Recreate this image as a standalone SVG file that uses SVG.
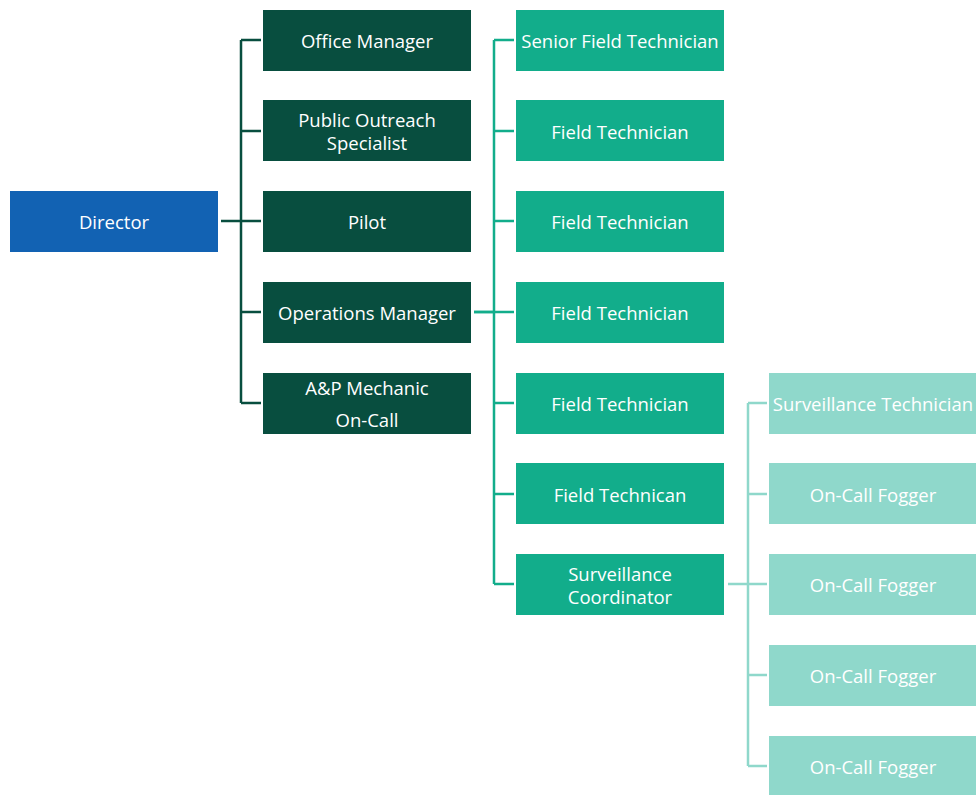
<svg xmlns="http://www.w3.org/2000/svg" width="976" height="795" viewBox="0 0 976 795">
<style>
text{font-family:"Open Sans","Noto Sans","Liberation Sans",sans-serif;font-size:18.5px;fill:#fff;text-anchor:middle;dominant-baseline:central}
.dir{fill:#1262b3}
.dk{fill:#084e3f}
.tl{fill:#12ad8b}
.lt{fill:#8fd8cb}
.c1{stroke:#084e3f;stroke-width:2.5;fill:none}
.c2{stroke:#12ad8b;stroke-width:2.5;fill:none}
.c3{stroke:#8fd8cb;stroke-width:2.5;fill:none}
</style>
<g id="connectors">
<path class="c1" d="M241 40V403M221 221H261M241 40H261M241 131H261M241 221H261M241 312H261M241 403H261"/>
<path class="c2" d="M494 40V584M474 312H514M494 40H514M494 131H514M494 221H514M494 312H514M494 403H514M494 494H514M494 584H514"/>
<path class="c2" d="M474 312H494" stroke-width="3.5"/>
<path class="c3" d="M748 403V766M728 584H767M748 403H767M748 494H767M748 584H767M748 675H767M748 766H767"/>
</g>
<g id="director"><rect class="dir" x="10" y="191" width="208" height="61"/><text x="114" y="221">Director</text></g>
<g id="office-manager"><rect class="dk" x="263" y="10" width="208" height="61"/><text x="367" y="40">Office Manager</text></g>
<g id="public-outreach"><rect class="dk" x="263" y="100" width="208" height="61"/><text x="367" y="119">Public Outreach</text><text x="367" y="142">Specialist</text></g>
<g id="pilot"><rect class="dk" x="263" y="191" width="208" height="61"/><text x="367" y="221">Pilot</text></g>
<g id="operations-manager"><rect class="dk" x="263" y="282" width="208" height="61"/><text x="367" y="312">Operations Manager</text></g>
<g id="ap-mechanic"><rect class="dk" x="263" y="373" width="208" height="61"/><text x="367" y="387">A&amp;P Mechanic</text><text x="367" y="419">On-Call</text></g>
<g id="senior-field-tech"><rect class="tl" x="516" y="10" width="208" height="61"/><text x="620" y="40">Senior Field Technician</text></g>
<g id="field-tech-1"><rect class="tl" x="516" y="100" width="208" height="61"/><text x="620" y="131">Field Technician</text></g>
<g id="field-tech-2"><rect class="tl" x="516" y="191" width="208" height="61"/><text x="620" y="221">Field Technician</text></g>
<g id="field-tech-3"><rect class="tl" x="516" y="282" width="208" height="61"/><text x="620" y="312">Field Technician</text></g>
<g id="field-tech-4"><rect class="tl" x="516" y="373" width="208" height="61"/><text x="620" y="403">Field Technician</text></g>
<g id="field-tech-5"><rect class="tl" x="516" y="463" width="208" height="61"/><text x="620" y="494">Field Technican</text></g>
<g id="surveillance-coordinator"><rect class="tl" x="516" y="554" width="208" height="61"/><text x="620" y="573">Surveillance</text><text x="620" y="596">Coordinator</text></g>
<g id="surveillance-tech"><rect class="lt" x="769" y="373" width="208" height="61"/><text x="873" y="403">Surveillance Technician</text></g>
<g id="fogger-1"><rect class="lt" x="769" y="463" width="208" height="61"/><text x="873" y="494">On-Call Fogger</text></g>
<g id="fogger-2"><rect class="lt" x="769" y="554" width="208" height="61"/><text x="873" y="584">On-Call Fogger</text></g>
<g id="fogger-3"><rect class="lt" x="769" y="645" width="208" height="61"/><text x="873" y="675">On-Call Fogger</text></g>
<g id="fogger-4"><rect class="lt" x="769" y="736" width="208" height="61"/><text x="873" y="766">On-Call Fogger</text></g>
</svg>
